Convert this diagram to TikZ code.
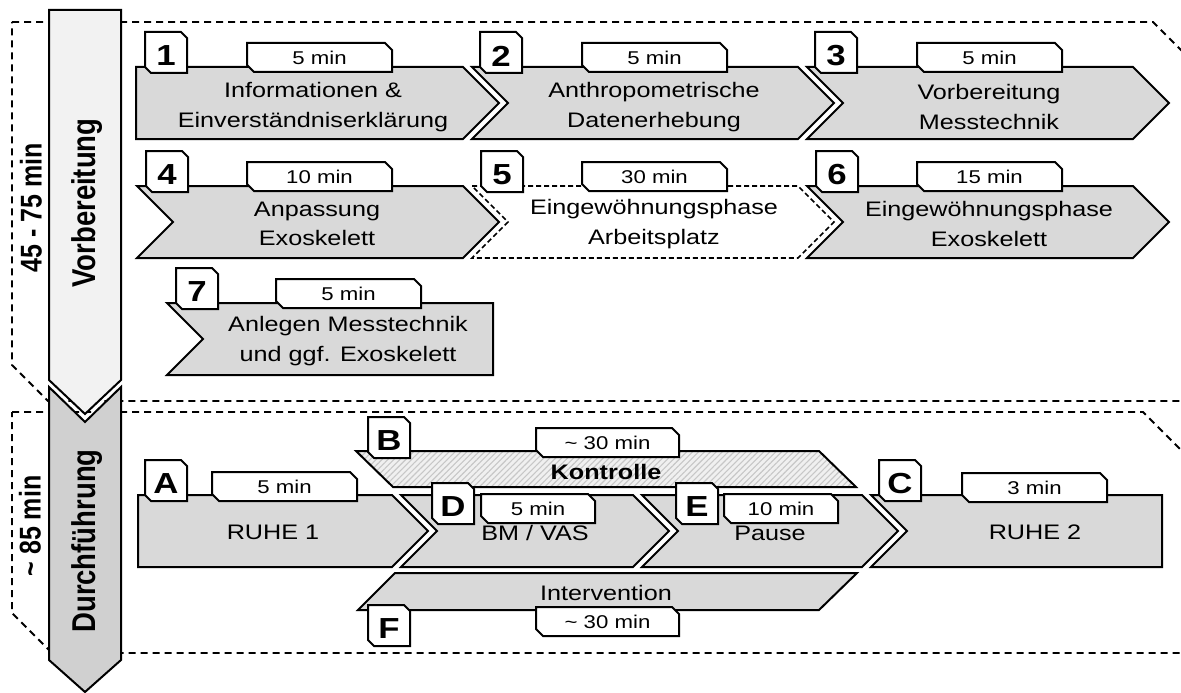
\documentclass[tikz,border=0pt]{standalone}
\usepackage{fontspec}
\setmainfont{Liberation Sans}[FakeStretch=1.2]
\newfontfamily\phasefont{Liberation Sans}
\usetikzlibrary{patterns.meta}

\definecolor{cBox}{RGB}{217,217,217}
\definecolor{cPrep}{RGB}{242,242,242}
\definecolor{cRun}{RGB}{208,208,208}

\tikzset{
  phaseframe/.style={draw,line width=1.8pt,dash pattern=on 7pt off 5pt},
  phase/.style={draw,line width=2pt,line join=miter},
  chev/.style={draw,line width=2pt,fill=cBox,line join=miter},
  chevdash/.style={draw,line width=1.6pt,fill=white,
                   dash pattern=on 5pt off 3pt},
  hatchband/.style={draw,line width=2pt,line join=miter,
                    preaction={fill=black!6},
                    pattern={Lines[angle=45,distance=4.2pt,line width=1.1pt]},
                    pattern color=black!22},
  tabline/.style={draw,line width=2pt,fill=white,line join=miter},
  boxtext/.style={align=center,inner sep=0pt,
                  font=\fontsize{21}{29.5}\selectfont},
  timetext/.style={inner sep=0pt,font=\fontsize{18.5}{20}\selectfont},
  numtext/.style={inner sep=0pt,font=\bfseries\fontsize{29}{30}\selectfont},
  phasetext/.style={xscale=1.2,rotate=90,inner sep=0pt,
                    font=\phasefont\bfseries\fontsize{27.5}{30}\selectfont},
  durtext/.style={xscale=1.2,rotate=90,inner sep=0pt,
                  font=\phasefont\bfseries\fontsize{25}{28}\selectfont}
}

% step arrow: left x, right x, top y, notch depth, tip depth (height 72)
\newcommand{\chevron}[6][chev]{%
  \draw[#1] (#2,#4) -- (#3,#4) -- (#3+#6,#4+36) -- (#3,#4+72)
    -- (#2,#4+72) -- (#2+#5,#4+36) -- cycle;}
% number tab: name, x, y, label
\newcommand{\numtab}[4]{%
  \draw[tabline] (#2,#3) -- (#2+36,#3) -- (#2+42,#3+6) -- (#2+42,#3+41)
    -- (#2+6,#3+41) -- (#2,#3+35) -- cycle;
  \node[numtext] (#1) at (#2+21,#3+24) {#4};}
% duration tab: name, x, y, width, label
\newcommand{\timetab}[5]{%
  \draw[tabline] (#2,#3) -- (#2+#4-7,#3) -- (#2+#4,#3+7) -- (#2+#4,#3+29)
    -- (#2+7,#3+29) -- (#2,#3+22) -- cycle;
  \node[timetext] (#1) at (#2+#4/2,#3+15) {#5};}

\begin{document}
\begin{tikzpicture}[x=1pt,y=-1pt]
  \useasboundingbox (0,0) rectangle (1181,693);
  \clip (0,0) rectangle (1181,693);

  % dashed phase frames
  \draw[phaseframe] (12,22) -- (1153,22) -- (1200,69) -- (1200,401)
    -- (48,401) -- (12,365) -- cycle;
  \draw[phaseframe] (12,412) -- (1143,412) -- (1200,469) -- (1200,653)
    -- (52,653) -- (12,613) -- cycle;

  % phase arrows
  \draw[phase,fill=cPrep] (49,10) -- (121,10) -- (121,380) -- (85,414)
    -- (49,380) -- cycle;
  \draw[phase,fill=cRun] (49,387) -- (85,422) -- (121,387) -- (121,660)
    -- (85,692) -- (49,660) -- cycle;
  \node[phasetext] (prep) at (87,203) {Vorbereitung};
  \node[phasetext] (run) at (87,541) {Durchführung};
  \node[durtext] (prepdur) at (31,208) {45 - 75 min};
  \node[durtext] (rundur) at (30,526) {\textasciitilde{} 85 min};

  % preparation steps
  \chevron{136}{463}{67}{0}{36}
  \chevron{472}{798}{67}{36}{36}
  \chevron{807}{1133}{67}{36}{36}
  \chevron{137}{463}{186}{36}{36}
  \chevron[chevdash]{472}{798}{186}{36}{36}
  \chevron{807}{1133}{186}{36}{36}
  \chevron{167}{493}{303}{36}{0}

  \node[boxtext] (t1) at (313,107) {Informationen \&\\Einverständniserklärung};
  \node[boxtext] (t2) at (654,107) {Anthropometrische\\Datenerhebung};
  \node[boxtext] (t3) at (989,107) {Vorbereitung\\Messtechnik};
  \node[boxtext] (t4) at (317,224) {Anpassung\\Exoskelett};
  \node[boxtext] (t5) at (654,224) {Eingewöhnungsphase\\Arbeitsplatz};
  \node[boxtext] (t6) at (989,224) {Eingewöhnungsphase\\Exoskelett};
  \node[boxtext] (t7) at (348,341) {Anlegen Messtechnik\\und ggf. Exoskelett};

  % test procedure
  \draw[hatchband] (356,451) -- (819,451) -- (856,487) -- (393,487) -- cycle;
  \chevron{138}{392}{495}{0}{36}
  \chevron{401}{633}{495}{36}{36}
  \chevron{642}{862}{495}{36}{36}
  \chevron{871}{1162}{495}{36}{0}
  \draw[chev] (395,573) -- (857,573) -- (819,610) -- (358,610) -- cycle;

  \node[boxtext] (tA) at (273,532) {RUHE 1};
  \node[boxtext,font=\bfseries\fontsize{21}{25}\selectfont] (tB)
      at (606,472) {Kontrolle};
  \node[boxtext] (tC) at (1035,532) {RUHE 2};
  \node[boxtext] (tD) at (535,533) {BM / VAS};
  \node[boxtext] (tE) at (770,533) {Pause};
  \node[boxtext] (tF) at (606,593) {Intervention};

  % number and duration tabs
  \numtab{n1}{145}{32}{1}  \timetab{d1}{247}{43}{145}{5 min}
  \numtab{n2}{480}{32}{2}  \timetab{d2}{582}{43}{145}{5 min}
  \numtab{n3}{815}{32}{3}  \timetab{d3}{917}{43}{145}{5 min}
  \numtab{n4}{146}{151}{4} \timetab{d4}{247}{162}{145}{10 min}
  \numtab{n5}{481}{151}{5} \timetab{d5}{582}{162}{145}{30 min}
  \numtab{n6}{816}{151}{6} \timetab{d6}{917}{162}{145}{15 min}
  \numtab{n7}{176}{268}{7} \timetab{d7}{276}{279}{145}{5 min}

  \numtab{nA}{145}{460}{A} \timetab{dA}{212}{472}{145}{5 min}
  \numtab{nB}{368}{417}{B} \timetab{dB}{536}{428}{143}{\textasciitilde{} 30 min}
  \numtab{nC}{879}{460}{C} \timetab{dC}{962}{473}{145}{3 min}
  \numtab{nD}{432}{483}{D} \timetab{dD}{481}{494}{114}{5 min}
  \numtab{nE}{676}{483}{E} \timetab{dE}{724}{494}{114}{10 min}
  \numtab{nF}{368}{605}{F} \timetab{dF}{536}{607}{143}{\textasciitilde{} 30 min}
\end{tikzpicture}
\end{document}
